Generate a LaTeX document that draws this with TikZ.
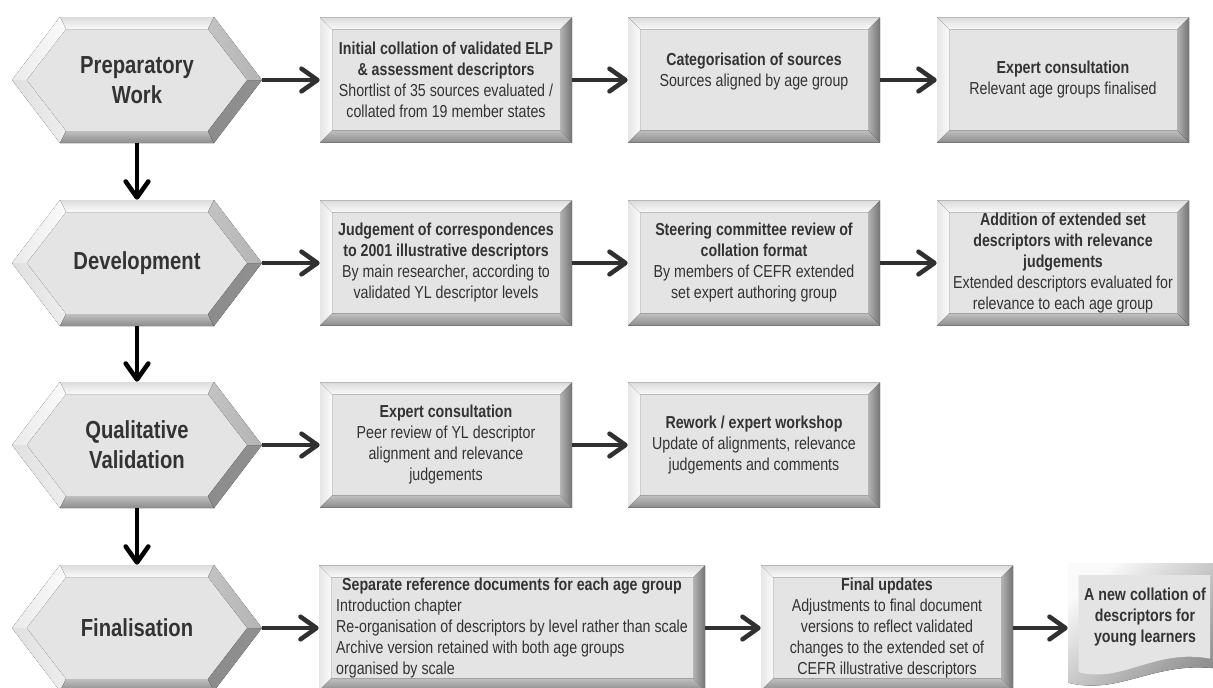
\documentclass[tikz,border=0pt]{standalone}
\usepackage{fontspec}
\setmainfont{Liberation Sans}[FakeStretch=0.82]
\usepackage{xcolor}
\usetikzlibrary{arrows.meta,calc}
\definecolor{ink}{HTML}{333333}
\definecolor{face}{HTML}{E4E4E4}
\definecolor{arrowgray}{HTML}{303030}
\definecolor{hilite}{HTML}{FAFAFA}
\definecolor{litegray}{HTML}{DCDCDC}
\definecolor{midgray}{HTML}{B4B4B4}
\definecolor{darkgray}{HTML}{747474}
\definecolor{lowgray}{HTML}{8C8C8C}

\tikzset{
  flow/.style={draw=arrowgray, line width=3.6pt,
    -{Straight Barb[length=12pt,width=17pt,line width=3.4pt,round]}},
  down/.style={flow, draw=black},
  boxfont/.style={font=\fontsize{13}{15.75}\selectfont},
  % grey block with bevelled edges
  stepbox/.style={minimum width=189pt, minimum height=93.75pt, inner sep=0pt,
    align=center, text=ink, boxfont,
    path picture={
      \coordinate (pnw) at (path picture bounding box.north west);
      \coordinate (pne) at (path picture bounding box.north east);
      \coordinate (psw) at (path picture bounding box.south west);
      \coordinate (pse) at (path picture bounding box.south east);
      \fill[face] (pnw) rectangle (pse);
      \fill[top color=litegray, bottom color=hilite]
        (pnw) -- (pne) -- ([shift={(-9pt,-9pt)}]pne) -- ([shift={(9pt,-9pt)}]pnw) -- cycle;
      \fill[left color=litegray!70, right color=hilite]
        (pnw) -- ([shift={(9pt,-9pt)}]pnw) -- ([shift={(9pt,9pt)}]psw) -- (psw) -- cycle;
      \fill[left color=midgray, right color=darkgray]
        (pne) -- (pse) -- ([shift={(-9pt,9pt)}]pse) -- ([shift={(-9pt,-9pt)}]pne) -- cycle;
      \fill[top color=midgray!85, bottom color=lowgray]
        (psw) -- (pse) -- ([shift={(-9pt,9pt)}]pse) -- ([shift={(9pt,9pt)}]psw) -- cycle;
    }},
  % bevelled hexagon for each stage
  stage/.style={minimum width=187.5pt, minimum height=94.5pt, inner sep=0pt,
    align=center, text=ink, font=\fontsize{18.5}{22.5}\selectfont\bfseries,
    path picture={
      \coordinate (pnw) at (path picture bounding box.north west);
      \coordinate (pne) at (path picture bounding box.north east);
      \coordinate (psw) at (path picture bounding box.south west);
      \coordinate (pse) at (path picture bounding box.south east);
      \coordinate (pw) at (path picture bounding box.west);
      \coordinate (pe) at (path picture bounding box.east);
      \coordinate (o1) at (pw);
      \coordinate (o2) at ([xshift=36pt]pnw);
      \coordinate (o3) at ([xshift=-36pt]pne);
      \coordinate (o4) at (pe);
      \coordinate (o5) at ([xshift=-36pt]pse);
      \coordinate (o6) at ([xshift=36pt]psw);
      \coordinate (i1) at ([xshift=11pt]pw);
      \coordinate (i2) at ([shift={(40.5pt,-9pt)}]pnw);
      \coordinate (i3) at ([shift={(-40.5pt,-9pt)}]pne);
      \coordinate (i4) at ([xshift=-11pt]pe);
      \coordinate (i5) at ([shift={(-40.5pt,9pt)}]pse);
      \coordinate (i6) at ([shift={(40.5pt,9pt)}]psw);
      \fill[face] (i1) -- (i2) -- (i3) -- (i4) -- (i5) -- (i6) -- cycle;
      \fill[top color=litegray, bottom color=hilite] (o2) -- (o3) -- (i3) -- (i2) -- cycle;
      \fill[left color=litegray!60, right color=hilite] (o1) -- (o2) -- (i2) -- (i1) -- cycle;
      \fill[left color=litegray!90, right color=litegray!50] (o6) -- (o1) -- (i1) -- (i6) -- cycle;
      \fill[top color=midgray!85, bottom color=lowgray] (o5) -- (o6) -- (i6) -- (i5) -- cycle;
      \fill[left color=lowgray, right color=darkgray!80] (o4) -- (o5) -- (i5) -- (i4) -- cycle;
      \fill[left color=midgray!80, right color=midgray] (o3) -- (o4) -- (i4) -- (i3) -- cycle;
    }},
  % document shape with wavy foot
  outcome/.style={minimum width=115.5pt, minimum height=93.75pt, inner sep=0pt,
    align=center, text=ink, font=\fontsize{13}{15.75}\selectfont\bfseries,
    path picture={
      \coordinate (pnw) at (path picture bounding box.north west);
      \coordinate (pne) at (path picture bounding box.north east);
      \coordinate (psw) at (path picture bounding box.south west);
      \coordinate (pse) at (path picture bounding box.south east);
      \fill[top color=hilite, bottom color=lowgray, shading angle=40]
        (pnw) -- (pne) -- ([yshift=14pt]pse)
        .. controls ([shift={(-50pt,22pt)}]pse) and ([shift={(40pt,-6pt)}]psw) .. ([yshift=4pt]psw) -- cycle;
      \fill[face]
        ([shift={(8pt,-9pt)}]pnw) -- ([shift={(-9pt,-9pt)}]pne) -- ([shift={(-9pt,22pt)}]pse)
        .. controls ([shift={(-50pt,30pt)}]pse) and ([shift={(40pt,3pt)}]psw) .. ([shift={(8pt,12pt)}]psw) -- cycle;
    }},
}

\begin{document}
\begin{tikzpicture}[x=0.75pt,y=-0.75pt]
  \useasboundingbox (0,0) rectangle (1213,687);
  \clip (0,0) rectangle (1213,687);

  % stages
  \node[stage] (prep)  at (137,80)  {Preparatory\\Work};
  \node[stage] (dev)   at (137,263) {Development};
  \node[stage] (qual)  at (137,445) {Qualitative\\Validation};
  \node[stage] (final) at (137,628) {Finalisation};

  % preparatory work
  \node[stepbox] (collate) at (446,80)
    {\textbf{Initial collation of validated ELP}\\\textbf{\& assessment descriptors}\\Shortlist of 35 sources evaluated /\\collated from 19 member states};
  \node[stepbox] (categ) at (754,80)
    {\textbf{Categorisation of sources}\\Sources aligned by age group\\\mbox{}};
  \node[stepbox] (consult) at (1063,80)
    {\textbf{Expert consultation}\\Relevant age groups finalised};

  % development
  \node[stepbox] (judge) at (446,263)
    {\textbf{Judgement of correspondences}\\\textbf{to 2001 illustrative descriptors}\\By main researcher, according to\\validated YL descriptor levels};
  \node[stepbox] (steer) at (754,263)
    {\textbf{Steering committee review of}\\\textbf{collation format}\\By members of CEFR extended\\set expert authoring group};
  \node[stepbox] (extend) at (1063,263)
    {\textbf{Addition of extended set}\\\textbf{descriptors with relevance}\\\textbf{judgements}\\Extended descriptors evaluated for\\relevance to each age group};

  % qualitative validation
  \node[stepbox] (review) at (446,445)
    {\textbf{Expert consultation}\\Peer review of YL descriptor\\alignment and relevance\\judgements};
  \node[stepbox] (rework) at (754,445)
    {\textbf{Rework / expert workshop}\\Update of alignments, relevance\\judgements and comments};

  % finalisation
  \node[stepbox, minimum width=289.5pt] (separate) at (512,628)
    {\begin{tabular}{@{}l@{}}\multicolumn{1}{@{}c@{}}{\textbf{Separate reference documents for each age group}}\\
     Introduction chapter\\Re-organisation of descriptors by level rather than scale\\
     Archive version retained with both age groups\\organised by scale\end{tabular}};
  \node[stepbox] (update) at (887,628)
    {\textbf{Final updates}\\Adjustments to final document\\versions to reflect validated\\changes to the extended set of\\CEFR illustrative descriptors};
  \node[outcome] (result) at (1145,625.5)
    {A new collation of\\descriptors for\\young learners\\\mbox{}};

  % connectors
  \draw[down] (prep.south) -- (dev.north);
  \draw[down] (dev.south) -- (qual.north);
  \draw[down] (qual.south) -- (final.north);

  \draw[flow] (prep.east) -- (collate.west);
  \draw[flow] (collate.east) -- (categ.west);
  \draw[flow] (categ.east) -- (consult.west);
  \draw[flow] (dev.east) -- (judge.west);
  \draw[flow] (judge.east) -- (steer.west);
  \draw[flow] (steer.east) -- (extend.west);
  \draw[flow] (qual.east) -- (review.west);
  \draw[flow] (review.east) -- (rework.west);
  \draw[flow] (final.east) -- (separate.west);
  \draw[flow] (separate.east) -- (update.west);
  \draw[flow] (update.east) -- (update.east -| result.west);
\end{tikzpicture}
\end{document}
